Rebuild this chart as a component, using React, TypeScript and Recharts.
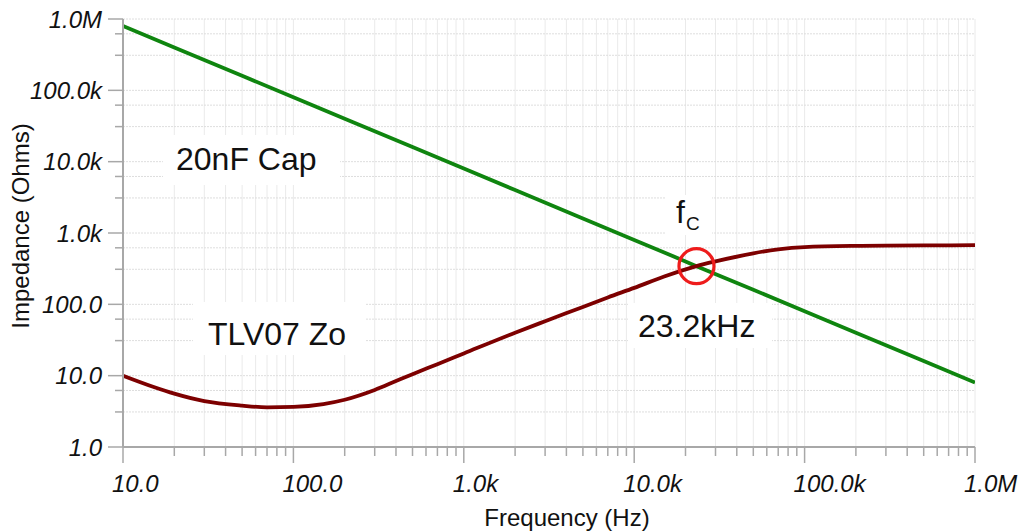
import React from 'react'
import { LineChart, Line, XAxis, YAxis, CartesianGrid, ReferenceDot } from 'recharts'

// frequency axis (Hz)
const xMajorTicks = [10, 100, 1000, 10000, 100000, 1000000]
const xMajorLabels = ['10.0', '100.0', '1.0k', '10.0k', '100.0k', '1.0M']
const xMinorTicks = [
  20, 30, 40, 50, 60, 70, 80, 90,
  200, 300, 400, 500, 600, 700, 800, 900,
  2000, 3000, 4000, 5000, 6000, 7000, 8000, 9000,
  20000, 30000, 40000, 50000, 60000, 70000, 80000, 90000,
  200000, 300000, 400000, 500000, 600000, 700000, 800000, 900000,
]

// impedance axis (Ohms)
const yMajorTicks = [1, 10, 100, 1000, 10000, 100000, 1000000]
const yMajorLabels = ['1.0', '10.0', '100.0', '1.0k', '10.0k', '100.0k', '1.0M']
const yMinorTicks = [3.1, 6.2, 31, 62, 310, 620, 3100, 6200, 31000, 62000, 310000, 620000]

// 20nF capacitor impedance
const capFreq = [10, 20, 50, 100, 200, 500, 1000, 2000, 5000, 10000, 20000, 23200, 50000, 100000, 200000, 500000, 1000000]
const capOhms = [800000, 400000, 160000, 80000, 40000, 16000, 8000, 4000, 1600, 800, 400, 343, 160, 80, 40, 16, 8]

// TLV07 output impedance
const zoFreq = [10, 15, 20, 30, 50, 70, 100, 150, 200, 300, 400, 500, 700, 1000, 2000, 3000, 5000, 7000, 10000, 15000, 23200, 30000, 50000, 70000, 100000, 200000, 300000, 500000, 1000000]
const zoOhms = [10, 7, 5.6, 4.4, 3.8, 3.6, 3.65, 4.0, 4.6, 6.3, 8.4, 10.5, 14.5, 20.5, 40, 58, 92, 125, 170, 245, 343, 400, 520, 590, 635, 660, 665, 670, 675]

const crossFreq = 23200
const crossOhms = 343

const capData = capFreq.map((f, i) => ({ f, z: capOhms[i] }))
const zoData = zoFreq.map((f, i) => ({ f, z: zoOhms[i] }))

const xTicks = [...xMajorTicks, ...xMinorTicks].sort((a, b) => a - b)
const yTicks = [...yMajorTicks, ...yMinorTicks].sort((a, b) => a - b)

const FONT = '"Liberation Sans", Arial, sans-serif'
const AXIS = '#a8a8a8'

const XTick = (props: any) => {
  const { x, y, payload } = props
  const idx = xMajorTicks.indexOf(payload.value)
  const major = idx >= 0
  return (
    <g>
      <line x1={x} y1={y} x2={x} y2={y + (major ? 16 : 9)} stroke={AXIS} strokeWidth={1.5} />
      {major && (
        <text x={x - 11} y={y + 45} fontFamily={FONT} fontStyle="italic" fontSize={24} fill="#111">
          {xMajorLabels[idx]}
        </text>
      )}
    </g>
  )
}

const YTick = (props: any) => {
  const { x, y, payload } = props
  const idx = yMajorTicks.indexOf(payload.value)
  const major = idx >= 0
  return (
    <g>
      <line x1={x - (major ? 15 : 8)} y1={y} x2={x} y2={y} stroke={AXIS} strokeWidth={1.5} />
      {major && (
        <text x={x - 21} y={y + 8.5} textAnchor="end" fontFamily={FONT} fontStyle="italic" fontSize={24} fill="#111">
          {yMajorLabels[idx]}
        </text>
      )}
    </g>
  )
}

export default function App() {
  return (
    <div style={{ position: 'absolute', left: 0, top: 0, width: 1022, height: 532, background: '#fff' }}>
      <LineChart width={1022} height={532} margin={{ top: 19, right: 47, bottom: 0, left: 0 }}>
        <CartesianGrid horizontal={false} stroke="#eaeaea" strokeWidth={1} />
        <CartesianGrid vertical={false} stroke="#dedede" strokeWidth={1} strokeDasharray="2 1" />
        <XAxis
          dataKey="f"
          type="number"
          scale="log"
          domain={[10, 1000000]}
          ticks={xTicks}
          interval={0}
          allowDataOverflow
          height={85}
          tickSize={0}
          tickMargin={0}
          tickLine={false}
          axisLine={{ stroke: AXIS, strokeWidth: 2 }}
          tick={<XTick />}
        />
        <YAxis
          dataKey="z"
          type="number"
          scale="log"
          domain={[1, 1000000]}
          ticks={yTicks}
          interval={0}
          allowDataOverflow
          width={123}
          tickSize={0}
          tickMargin={0}
          tickLine={false}
          axisLine={{ stroke: AXIS, strokeWidth: 2 }}
          tick={<YTick />}
        />
        <Line data={capData} dataKey="z" type="linear" stroke="#0f850f" strokeWidth={3.8} dot={false} isAnimationActive={false} />
        <Line data={zoData} dataKey="z" type="monotone" stroke="#7d0000" strokeWidth={3.8} dot={false} isAnimationActive={false} />
        <ReferenceDot x={crossFreq} y={crossOhms} r={17.5} fill="none" stroke="#ee1c1c" strokeWidth={3.2} />
      </LineChart>
      <svg width={1022} height={532} style={{ position: 'absolute', left: 0, top: 0, pointerEvents: 'none' }}>
        <g fill="#fff">
          <rect x={163} y={135} width={177} height={50} />
          <rect x={193} y={302} width={172} height={53} />
          <rect x={628} y={303} width={144} height={45} />
          <rect x={665} y={195} width={47} height={40} />
        </g>
        <g fontFamily={FONT} fill="#111">
          <text x={176} y={170} fontSize={32}>20nF Cap</text>
          <text x={208} y={345} fontSize={32}>TLV07 Zo</text>
          <text x={638} y={337} fontSize={32}>23.2kHz</text>
          <text x={676} y={223} fontSize={32}>f</text>
          <text x={686} y={230} fontSize={19}>C</text>
          <text x={567} y={526} fontSize={24} textAnchor="middle">Frequency (Hz)</text>
          <text x={29} y={226} fontSize={24} textAnchor="middle" transform="rotate(-90 29 226)">Impedance (Ohms)</text>
        </g>
      </svg>
    </div>
  )
}
